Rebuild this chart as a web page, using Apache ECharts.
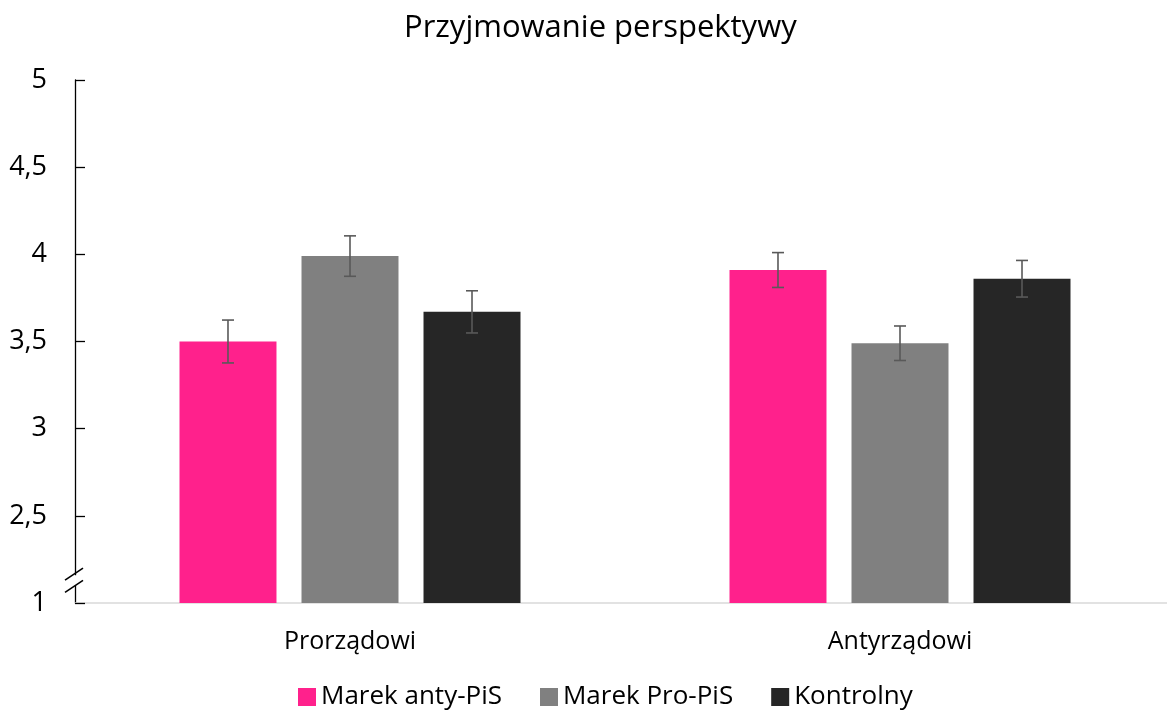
<!DOCTYPE html>
<html><head><meta charset="utf-8">
<script src="https://cdn.jsdelivr.net/npm/echarts@6/dist/echarts.min.js"></script>
<style>html,body{margin:0;padding:0;background:#fff;overflow:hidden}#c{width:1180px;height:715px}</style>
</head><body><div id="c"></div>
<script>
const categories = ['Prorządowi', 'Antyrządowi'];
const seriesNames = ['Marek anty-PiS', 'Marek Pro-PiS', 'Kontrolny'];
const antyPiS = [3.50, 3.91];
const proPiS = [3.99, 3.49];
const kontrolny = [3.67, 3.86];
const antyPiSErr = [0.123, 0.10];
const proPiSErr = [0.116, 0.099];
const kontrolnyErr = [0.121, 0.105];
const colors = ['#FF218C', '#808080', '#262626'];

const values = [antyPiS, proPiS, kontrolny];
const errs = [antyPiSErr, proPiSErr, kontrolnyErr];
const FONT = '"Open Sans", "Noto Sans", sans-serif';
const CAT_GAP = 0.38, BAR_GAP = 0.258;

const chart = echarts.init(document.getElementById('c'), null, {renderer: 'canvas'});

function errRender(si) {
  return function (params, api) {
    const ci = api.value(0);
    const top = api.coord([ci, api.value(1) + api.value(2)]);
    const bot = api.coord([ci, api.value(1) - api.value(2)]);
    const catW = api.size([1, 0])[0];
    const bw = catW * (1 - CAT_GAP) / (3 + 2 * BAR_GAP);
    const x = top[0] + (si - 1) * bw * (1 + BAR_GAP);
    const cap = 6;
    const st = {stroke: '#595959', lineWidth: 1.6};
    return {type: 'group', children: [
      {type: 'line', shape: {x1: x, y1: top[1], x2: x, y2: bot[1]}, style: st},
      {type: 'line', shape: {x1: x - cap, y1: top[1], x2: x + cap, y2: top[1]}, style: st},
      {type: 'line', shape: {x1: x - cap, y1: bot[1], x2: x + cap, y2: bot[1]}, style: st}
    ]};
  };
}

const series = [];
seriesNames.forEach((n, i) => {
  series.push({
    name: n, type: 'bar', data: values[i],
    barCategoryGap: (CAT_GAP * 100) + '%', barGap: (BAR_GAP * 100) + '%',
    itemStyle: {color: colors[i]}, z: 2
  });
});
seriesNames.forEach((n, i) => {
  series.push({
    type: 'custom', name: n + ' err', renderItem: errRender(i), z: 5,
    data: categories.map((c, ci) => [ci, values[i][ci], errs[i][ci]]),
    encode: {x: 0, y: 1}, silent: true, tooltip: {show: false}
  });
});

chart.setOption({
  animation: false,
  title: {text: 'Przyjmowanie perspektywy', left: 399, top: 8,
    textStyle: {fontFamily: FONT, fontSize: 31, fontWeight: 'normal', color: '#000'}},
  legend: {data: seriesNames, bottom: 0, left: 293, itemWidth: 18, itemHeight: 18, itemGap: 38,
    icon: 'rect', textStyle: {fontFamily: FONT, fontSize: 26, color: '#000'}},
  grid: {left: 75, top: 80, width: 1100, height: 523},
  xAxis: {type: 'category', data: categories,
    axisLine: {lineStyle: {color: '#d9d9d9', width: 1.5}}, axisTick: {show: false},
    axisLabel: {fontFamily: FONT, fontSize: 25, color: '#000', margin: 26}},
  yAxis: {type: 'value', min: 2, max: 5, interval: 0.5,
    axisLine: {show: true, lineStyle: {color: '#000', width: 1.3}},
    axisTick: {show: true, inside: true, length: 10, lineStyle: {color: '#000', width: 1.3}},
    splitLine: {show: false},
    axisLabel: {fontFamily: FONT, fontSize: 27, color: '#000', margin: 28,
      formatter: v => v === 2 ? '1' : String(v).replace('.', ',')}},
  series: series
});

// axis break marker
const p1 = chart.convertToPixel({gridIndex: 0}, [0, 2.165]);
const p2 = chart.convertToPixel({gridIndex: 0}, [0, 2.095]);
const ax = 75;
chart.setOption({graphic: [
  {type: 'line', shape: {x1: ax - 10, y1: p1[1] + 6, x2: ax + 8, y2: p1[1] - 6}, style: {stroke: '#000', lineWidth: 1.5}, z: 10},
  {type: 'line', shape: {x1: ax - 10, y1: p2[1] + 6, x2: ax + 8, y2: p2[1] - 6}, style: {stroke: '#000', lineWidth: 1.5}, z: 10},
  {type: 'rect', shape: {x: ax - 2, y: p1[1] + 1, width: 4, height: p2[1] - p1[1] - 2}, style: {fill: '#fff'}, z: 9}
]});
</script></body></html>
